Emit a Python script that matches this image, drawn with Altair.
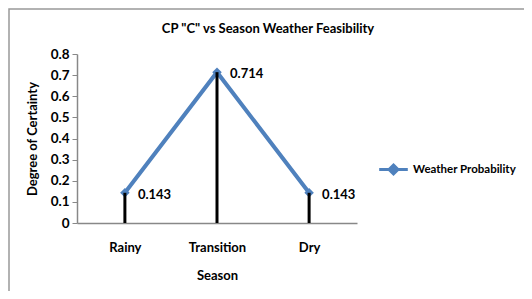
import altair as alt
import pandas as pd

seasons = ["Rainy", "Transition", "Dry"]
values = [0.143, 0.714, 0.143]
labels = ["0.143", "0.714", "0.143"]
series = "Weather Probability"
title_text = "CP \"C\" vs Season  Weather Feasibility"

df = pd.DataFrame({"Season": seasons, "v": values, "label": labels, "series": [series] * 3})

FONT = "Lato"
BLUE = "#4F81BD"

x = alt.X("Season:N", sort=seasons,
          scale=alt.Scale(type="point", padding=0.52),
          axis=alt.Axis(title="Season", labelAngle=0, ticks=False, domainColor="#888888",
                        domainWidth=1.5, labelPadding=18, titlePadding=15,
                        labelFontSize=13, titleFontSize=13, labelFontWeight="bold",
                        titleFontWeight="bold", labelColor="black", titleColor="black",
                        labelFont=FONT, titleFont=FONT))
y = alt.Y("v:Q", scale=alt.Scale(domain=[0, 0.8]),
          axis=alt.Axis(title="Degree of Certainty", values=[0, 0.1, 0.2, 0.3, 0.4, 0.5, 0.6, 0.7, 0.8],
                        format=".1~f", grid=False, domainColor="#888888", tickColor="#888888",
                        domainWidth=1.5, tickSize=5, labelPadding=3, titlePadding=11,
                        labelFontSize=13.5, titleFontSize=13, labelFontWeight="bold",
                        titleFontWeight="bold", labelColor="black", titleColor="black",
                        labelFont=FONT, titleFont=FONT))

base = alt.Chart(df)

drops = base.mark_rule(color="black", strokeWidth=3).encode(x=x, y=y, y2=alt.datum(0))

line = base.mark_line(strokeWidth=4, point=alt.OverlayMarkDef(shape="diamond", size=90, filled=True, color=BLUE)).encode(
    x=x, y=y,
    color=alt.Color("series:N", scale=alt.Scale(range=[BLUE]),
                    legend=alt.Legend(title=None, orient="none", legendX=306, legendY=105,
                                      symbolType="M-1.6,0L1.6,0M0,-0.5L0.5,0L0,0.5L-0.5,0Z",
                                      symbolSize=320, symbolStrokeWidth=3, symbolFillColor=BLUE,
                                      labelFontSize=11.5, labelFontWeight="bold", labelFont=FONT,
                                      labelColor="black", labelOffset=9))
)

text = base.mark_text(align="left", dx=13, dy=2, fontSize=13, fontWeight="bold", font=FONT, color="black").encode(
    x=x, y=y, text="label:N")

one = pd.DataFrame({"a": [0]})
border = alt.Chart(one).mark_rect(fill=None, stroke="#999999", strokeWidth=1.5).encode(
    x=alt.value(-68), x2=alt.value(480), y=alt.value(-45), y2=alt.value(300))

title = alt.Chart(one).mark_text(fontSize=13, fontWeight="bold", font=FONT, color="black").encode(
    x=alt.value(191), y=alt.value(-25), text=alt.value(title_text))

chart = alt.layer(border, title, line, drops, text).properties(
    width=280, height=169,
    autosize=alt.AutoSizeParams(type="none"),
    padding={"left": 69, "top": 46, "right": 167, "bottom": 68},
).configure_view(stroke=None)

chart.save("out.html", embed_options={"renderer": "svg", "actions": False})
